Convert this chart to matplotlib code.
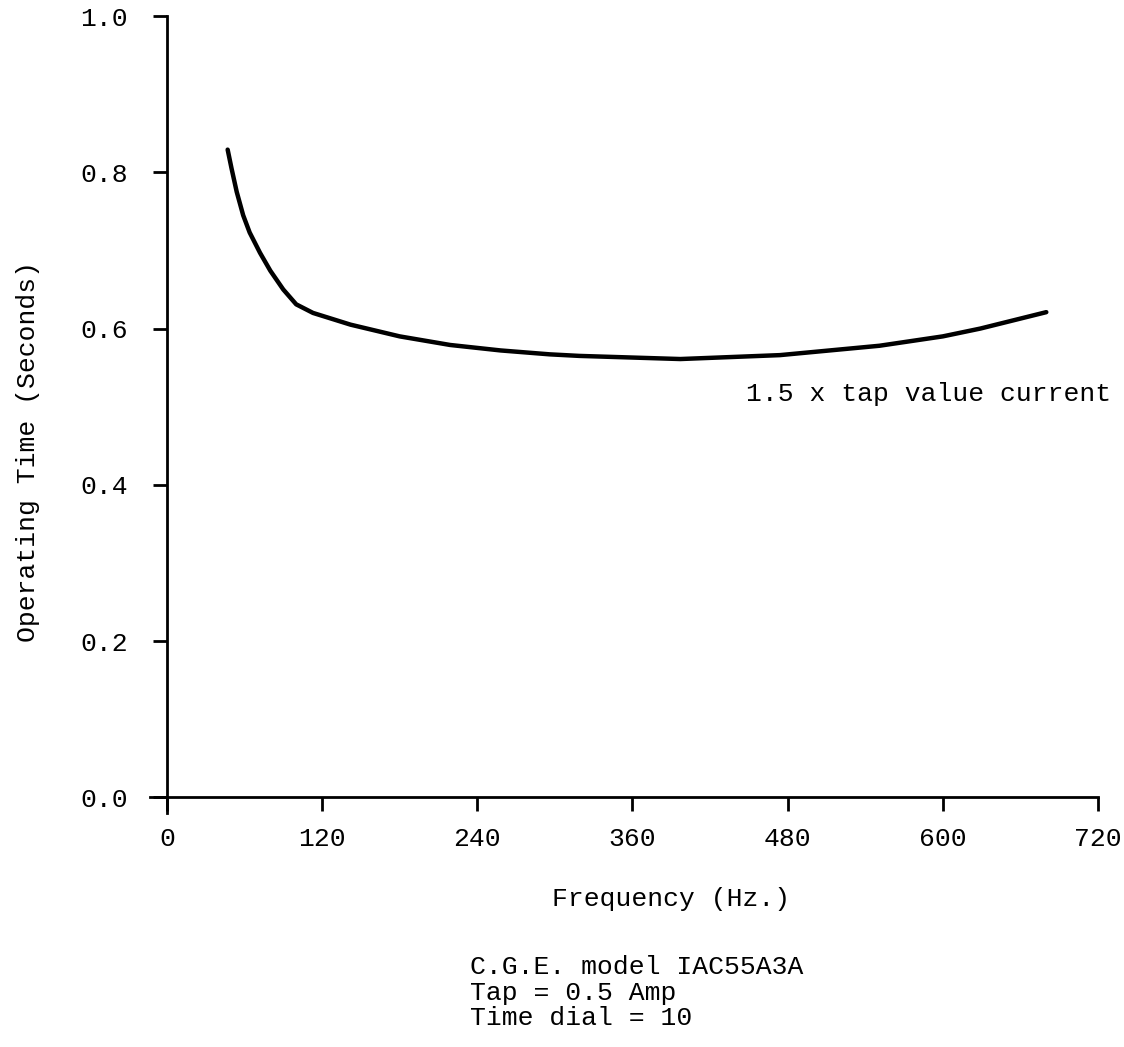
import matplotlib.pyplot as plt

# values
freq = [47, 50, 54, 59, 64, 72, 80, 90, 100, 113, 142, 180, 219, 258, 296,
        319, 397, 474, 551, 600, 629, 680]
op_time = [0.829, 0.805, 0.775, 0.745, 0.723, 0.697, 0.674, 0.650, 0.631, 0.620,
           0.605, 0.590, 0.579, 0.572, 0.567, 0.565, 0.561, 0.566, 0.578,
           0.590, 0.600, 0.621]
x_ticks = [0, 120, 240, 360, 480, 600, 720]
y_ticks = [0.0, 0.2, 0.4, 0.6, 0.8, 1.0]
notes = ["C.G.E. model IAC55A3A", "Tap = 0.5 Amp", "Time dial = 10"]

plt.rcParams['font.family'] = ['Liberation Mono', 'DejaVu Sans Mono']
fs = 19

fig = plt.figure(figsize=(11.24, 10.47), dpi=100)
ax = fig.add_axes([0.1335, 0.2235, 0.8434, 0.7612])

ax.plot(freq, op_time, color='black', lw=3.2, solid_capstyle='round',
        solid_joinstyle='round')

ax.set_xlim(-13, 720)
ax.set_ylim(-0.02, 1.0)

for s in ['top', 'right']:
    ax.spines[s].set_visible(False)
ax.spines['left'].set_position(('data', 0))
ax.spines['bottom'].set_position(('data', 0))
ax.spines['left'].set_bounds(-0.02, 1.0)
ax.spines['bottom'].set_bounds(-13, 720)
for s in ['left', 'bottom']:
    ax.spines[s].set_linewidth(2)

ax.set_xticks(x_ticks)
ax.set_xticklabels([str(v) for v in x_ticks])
ax.set_yticks(y_ticks)
ax.set_yticklabels([f"{v:.1f}" for v in y_ticks])
ax.tick_params(axis='x', direction='out', length=10, width=2, pad=11, labelsize=fs)
ax.tick_params(axis='y', direction='out', length=10, width=2, pad=18, labelsize=fs)

fig.text(0.025, 0.569, "Operating Time (Seconds)", rotation=90, fontsize=fs,
         ha='center', va='center')
fig.text(0.597, 0.141, "Frequency (Hz.)", fontsize=fs, ha='center', va='center')
fig.text(0.6635, 0.6235, "1.5 x tap value current", fontsize=fs, ha='left', va='center')
for i, line in enumerate(notes):
    fig.text(0.418, 0.0765 - i * 0.0245, line, fontsize=fs, ha='left', va='center')

fig.savefig("out.png", dpi=100)
